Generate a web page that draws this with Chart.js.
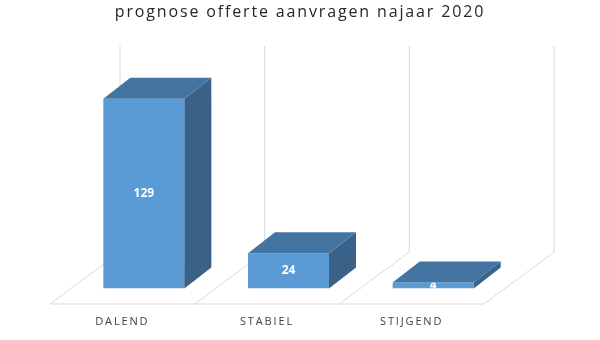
<!DOCTYPE html>
<html>
<head>
<meta charset="utf-8">
<script src="https://cdn.jsdelivr.net/npm/chart.js@4"></script>
<style>
    html, body { margin: 0; padding: 0; background: #fff; }
    #wrap { width: 600px; height: 340px; }
</style>
</head>
<body>
<div id="wrap"><canvas id="prognoseChart"></canvas></div>
<script>
const categories = ['DALEND', 'STABIEL', 'STIJGEND'];
const aanvragen = [129, 24, 4];
const yRange = [0, 140];

const colors = {
    front: '#5b9bd5',
    top: '#4475a2',
    side: '#3a6288',
    grid: '#d9d9d9',
    text: '#404040'
};

// depth of the 3d effect (bar and floor), in px
const barDepth = { dx: 27, dy: -21 };
const floorFront = { dx: -21.5, dy: 15.5 };
const floorBack = { dx: 48.5, dy: -36.5 };

const box3d = {
    id: 'box3d',
    beforeDraw(chart) {
        chart.ctx.letterSpacing = '1.85px';
    },
    beforeDatasetsDraw(chart) {
        const { ctx, chartArea: a } = chart;
        const catW = (a.right - a.left) / categories.length;
        ctx.save();
        ctx.letterSpacing = '0px';
        ctx.strokeStyle = colors.grid;
        ctx.lineWidth = 1;
        ctx.beginPath();
        for (let i = 0; i <= categories.length; i++) {
            const x = a.left + i * catW;
            // back wall
            ctx.moveTo(x + floorBack.dx, a.top + floorBack.dy);
            ctx.lineTo(x + floorBack.dx, a.bottom + floorBack.dy);
            // floor diagonal
            ctx.lineTo(x + floorFront.dx, a.bottom + floorFront.dy);
        }
        ctx.moveTo(a.left + floorFront.dx, a.bottom + floorFront.dy);
        ctx.lineTo(a.right + floorFront.dx, a.bottom + floorFront.dy);
        ctx.stroke();
        ctx.restore();
    },
    afterDatasetsDraw(chart) {
        const { ctx } = chart;
        const bars = chart.getDatasetMeta(0).data;
        ctx.save();
        ctx.letterSpacing = '0px';
        bars.forEach((bar, i) => {
            const { x, y, base, width } = bar.getProps(['x', 'y', 'base', 'width'], true);
            const l = x - width / 2, r = x + width / 2;

            ctx.fillStyle = '#ffffff';
            ctx.font = 'bold 12px "Open Sans", sans-serif';
            ctx.textAlign = 'center';
            ctx.textBaseline = 'middle';
            ctx.fillText(String(aanvragen[i]), x, (y + base) / 2);

            ctx.fillStyle = colors.side;
            ctx.beginPath();
            ctx.moveTo(r, y);
            ctx.lineTo(r + barDepth.dx, y + barDepth.dy);
            ctx.lineTo(r + barDepth.dx, base + barDepth.dy);
            ctx.lineTo(r, base);
            ctx.closePath();
            ctx.fill();

            ctx.fillStyle = colors.top;
            ctx.beginPath();
            ctx.moveTo(l, y);
            ctx.lineTo(l + barDepth.dx, y + barDepth.dy);
            ctx.lineTo(r + barDepth.dx, y + barDepth.dy);
            ctx.lineTo(r, y);
            ctx.closePath();
            ctx.fill();
        });
        ctx.restore();
        // tick labels (z: 1) are drawn after this
        ctx.letterSpacing = '2px';
    }
};

// invisible axes used only to reserve space left and right of the plot
const spacer = (w, pos) => ({
    position: pos,
    display: true,
    min: yRange[0],
    max: yRange[1],
    grid: { display: false, drawTicks: false },
    border: { display: false },
    ticks: { display: false },
    afterFit(scale) { scale.width = w; }
});

new Chart(document.getElementById('prognoseChart'), {
    type: 'bar',
    data: {
        labels: categories,
        datasets: [{
            data: aanvragen,
            backgroundColor: colors.front,
            borderWidth: 0,
            barPercentage: 0.56,
            categoryPercentage: 1
        }]
    },
    options: {
        responsive: true,
        maintainAspectRatio: false,
        animation: false,
        layout: {
            padding: 0
        },
        scales: {
            x: {
                z: 1,
                grid: { display: false, drawTicks: false },
                border: { display: false },
                ticks: {
                    color: colors.text,
                    font: { family: '"Open Sans", sans-serif', size: 11 },
                    labelOffset: -21.5,
                    padding: 27
                },
                afterFit(scale) { scale.height = 51.5; }
            },
            y: spacer(71.5, 'left'),
            yRight: spacer(94.5, 'right')
        },
        plugins: {
            legend: { display: false },
            tooltip: { enabled: false },
            title: {
                display: true,
                text: 'prognose offerte aanvragen najaar 2020',
                color: '#262626',
                font: { family: '"Open Sans", sans-serif', size: 16, weight: 'normal' },
                padding: { top: 3, bottom: 60.3 }
            }
        }
    },
    plugins: [box3d]
});
</script>
</body>
</html>
